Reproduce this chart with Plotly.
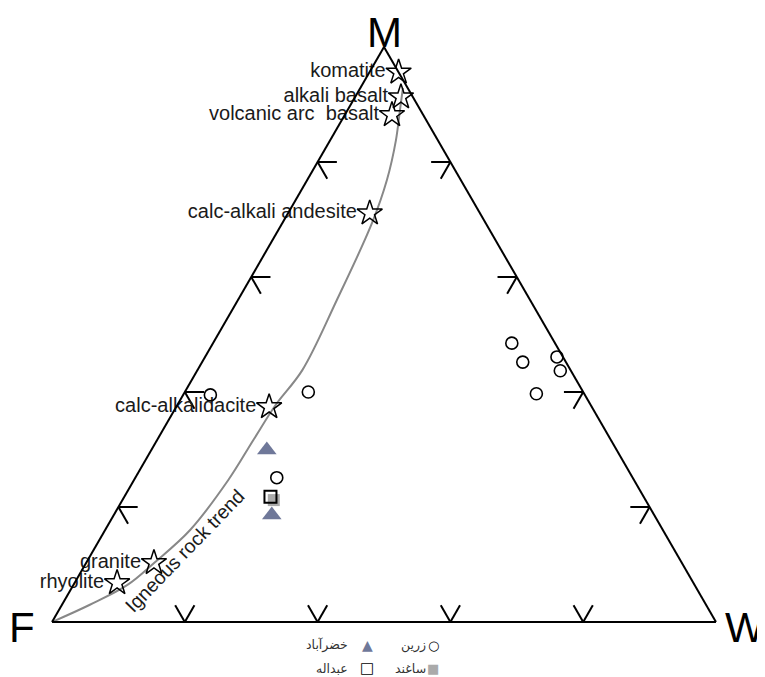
import plotly.graph_objects as go

# ---- data (ternary fractions: M, F, W) ----
rock_names = ["komatite", "alkali basalt", "volcanic arc\u00a0\u00a0basalt", "calc-alkali andesite",
              "calc-alkalidacite", "granite", "rhyolite"]
rock_M = [0.956, 0.913, 0.882, 0.711, 0.374, 0.103, 0.068]
rock_W = [0.044, 0.069, 0.071, 0.123, 0.140, 0.102, 0.064]
rock_F = [0.000, 0.018, 0.047, 0.166, 0.486, 0.795, 0.868]

trend_M = [0.0, 0.030, 0.064, 0.104, 0.160, 0.247, 0.317, 0.377, 0.438, 0.560, 0.694, 0.769, 0.838, 0.890, 0.929]
trend_W = [0.0, 0.042, 0.081, 0.103, 0.128, 0.142, 0.145, 0.148, 0.158, 0.149, 0.135, 0.120, 0.099, 0.079, 0.064]
trend_F = [1 - m - w for m, w in zip(trend_M, trend_W)]

zarin_M = [0.395, 0.400, 0.251, 0.485, 0.452, 0.461, 0.437, 0.397]
zarin_W = [0.041, 0.186, 0.213, 0.450, 0.483, 0.530, 0.547, 0.531]
zarin_F = [1 - m - w for m, w in zip(zarin_M, zarin_W)]

khezr_M = [0.299, 0.186]
khezr_W = [0.174, 0.238]
khezr_F = [1 - m - w for m, w in zip(khezr_M, khezr_W)]

abd_M = [0.218]
abd_W = [0.220]
abd_F = [1 - m - w for m, w in zip(abd_M, abd_W)]

sagh_M = [0.212]
sagh_W = [0.228]
sagh_F = [1 - m - w for m, w in zip(sagh_M, sagh_W)]

tick_vals = [0.2, 0.4, 0.6, 0.8]
vertex_labels = ["M", "F", "W"]
legend_names = ["زرین", "خضرآباد", "ساغند", "عبداله"]

# ---- tick stubs (drawn as short grid-line segments inside triangle) ----
d = 0.029
tm, tf, tw = [], [], []
def seg(p, q):
    tm.extend([p[0], q[0], None]); tf.extend([p[1], q[1], None]); tw.extend([p[2], q[2], None])
for t in tick_vals:
    # left side (W=0)
    seg((t, 1 - t, 0), (t, 1 - t - d, d))
    seg((t, 1 - t, 0), (t - d, 1 - t, d))
    # right side (F=0)
    seg((t, 0, 1 - t), (t, d, 1 - t - d))
    seg((t, 0, 1 - t), (t - d, d, 1 - t))
    # base (M=0)
    seg((0, 1 - t, t), (d, 1 - t - d, t))
    seg((0, 1 - t, t), (d, 1 - t, t - d))

fig = go.Figure()
fig.add_trace(go.Scatterternary(a=tm, b=tf, c=tw, mode="lines",
                                line=dict(color="black", width=2), hoverinfo="skip",
                                showlegend=False, cliponaxis=False))
fig.add_trace(go.Scatterternary(a=trend_M, b=trend_F, c=trend_W, mode="lines",
                                line=dict(color="#888888", width=2, shape="spline"),
                                showlegend=False, cliponaxis=False))
fig.add_trace(go.Scatterternary(a=rock_M, b=rock_F, c=rock_W, mode="markers+text",
                                text=rock_names, textposition="middle left",
                                textfont=dict(family="Liberation Sans, Arial", size=20, color="#1a1a1a"),
                                marker=dict(symbol="star-open", size=19, color="black",
                                            line=dict(width=1.5, color="black")),
                                showlegend=False, cliponaxis=False))
fig.add_trace(go.Scatterternary(a=zarin_M, b=zarin_F, c=zarin_W, mode="markers", name=legend_names[0],
                                marker=dict(symbol="circle-open", size=12, color="black",
                                            line=dict(width=1.6, color="black")),
                                showlegend=False, cliponaxis=False))
fig.add_trace(go.Scatterternary(a=khezr_M, b=khezr_F, c=khezr_W, mode="markers", name=legend_names[1],
                                marker=dict(symbol="triangle-up", size=17, color="#6f7899",
                                            line=dict(width=0)),
                                showlegend=False, cliponaxis=False))
fig.add_trace(go.Scatterternary(a=sagh_M, b=sagh_F, c=sagh_W, mode="markers", name=legend_names[2],
                                marker=dict(symbol="square", size=12, color="#aaaaaa",
                                            line=dict(width=0)),
                                showlegend=False, cliponaxis=False))
fig.add_trace(go.Scatterternary(a=abd_M, b=abd_F, c=abd_W, mode="markers", name=legend_names[3],
                                marker=dict(symbol="square-open", size=12, color="black",
                                            line=dict(width=2, color="black")),
                                showlegend=False, cliponaxis=False))

axis_style = dict(showline=True, linecolor="black", linewidth=2, showgrid=False,
                  showticklabels=False, ticks="", title=dict(text=""))
# the page body adds an 8px offset, so the figure is 8px smaller than the window
fig.update_layout(
    width=757, height=669,
    margin=dict(l=44, r=49, t=39, b=55),
    paper_bgcolor="white",
    font=dict(family="Liberation Sans, Arial", color="#1a1a1a"),
    ternary=dict(sum=1, bgcolor="white", aaxis=axis_style, baxis=axis_style, caxis=axis_style),
    showlegend=False,
)

vfont = dict(family="Liberation Sans, Arial", size=42, color="black")
for txt, vx, vy in [(vertex_labels[0], 0.5015, 1.0260),
                    (vertex_labels[1], -0.0452, -0.0104),
                    (vertex_labels[2], 1.0437, -0.0087)]:
    fig.add_annotation(x=vx, y=vy, xref="paper", yref="paper", text=txt, xanchor="center",
                       yanchor="middle", showarrow=False, font=vfont, borderpad=0)

fig.add_annotation(x=0.2010, y=0.1245, xref="paper", yref="paper", text="Igneous rock trend",
                   textangle=-46, showarrow=False, xanchor="center", yanchor="middle",
                   font=dict(family="Liberation Sans, Arial", size=19.5, color="#1a1a1a"))

# legend (right-to-left: text then symbol)
lfont = dict(family="DejaVu Sans", size=12.5, color="#333333")
leg = [
    (legend_names[0], 0.5663, 0.5738, -0.040, "○", "black", 13),
    (legend_names[1], 0.4488, 0.4744, -0.040, "▲", "#6f7899", 14),
    (legend_names[2], 0.5663, 0.5738, -0.080, "■", "#aaaaaa", 13),
    (legend_names[3], 0.4488, 0.4744, -0.080, "□", "black", 15),
]
for name, tx, mx, yy, sym, col, sz in leg:
    fig.add_annotation(x=tx, y=yy, xref="paper", yref="paper", text=name, xanchor="right",
                       yanchor="middle", showarrow=False, font=lfont)
    fig.add_annotation(x=mx, y=yy, xref="paper", yref="paper", text=sym, xanchor="center",
                       yanchor="middle", showarrow=False, font=dict(family="DejaVu Sans", size=sz, color=col))

fig.write_html("out.html")
